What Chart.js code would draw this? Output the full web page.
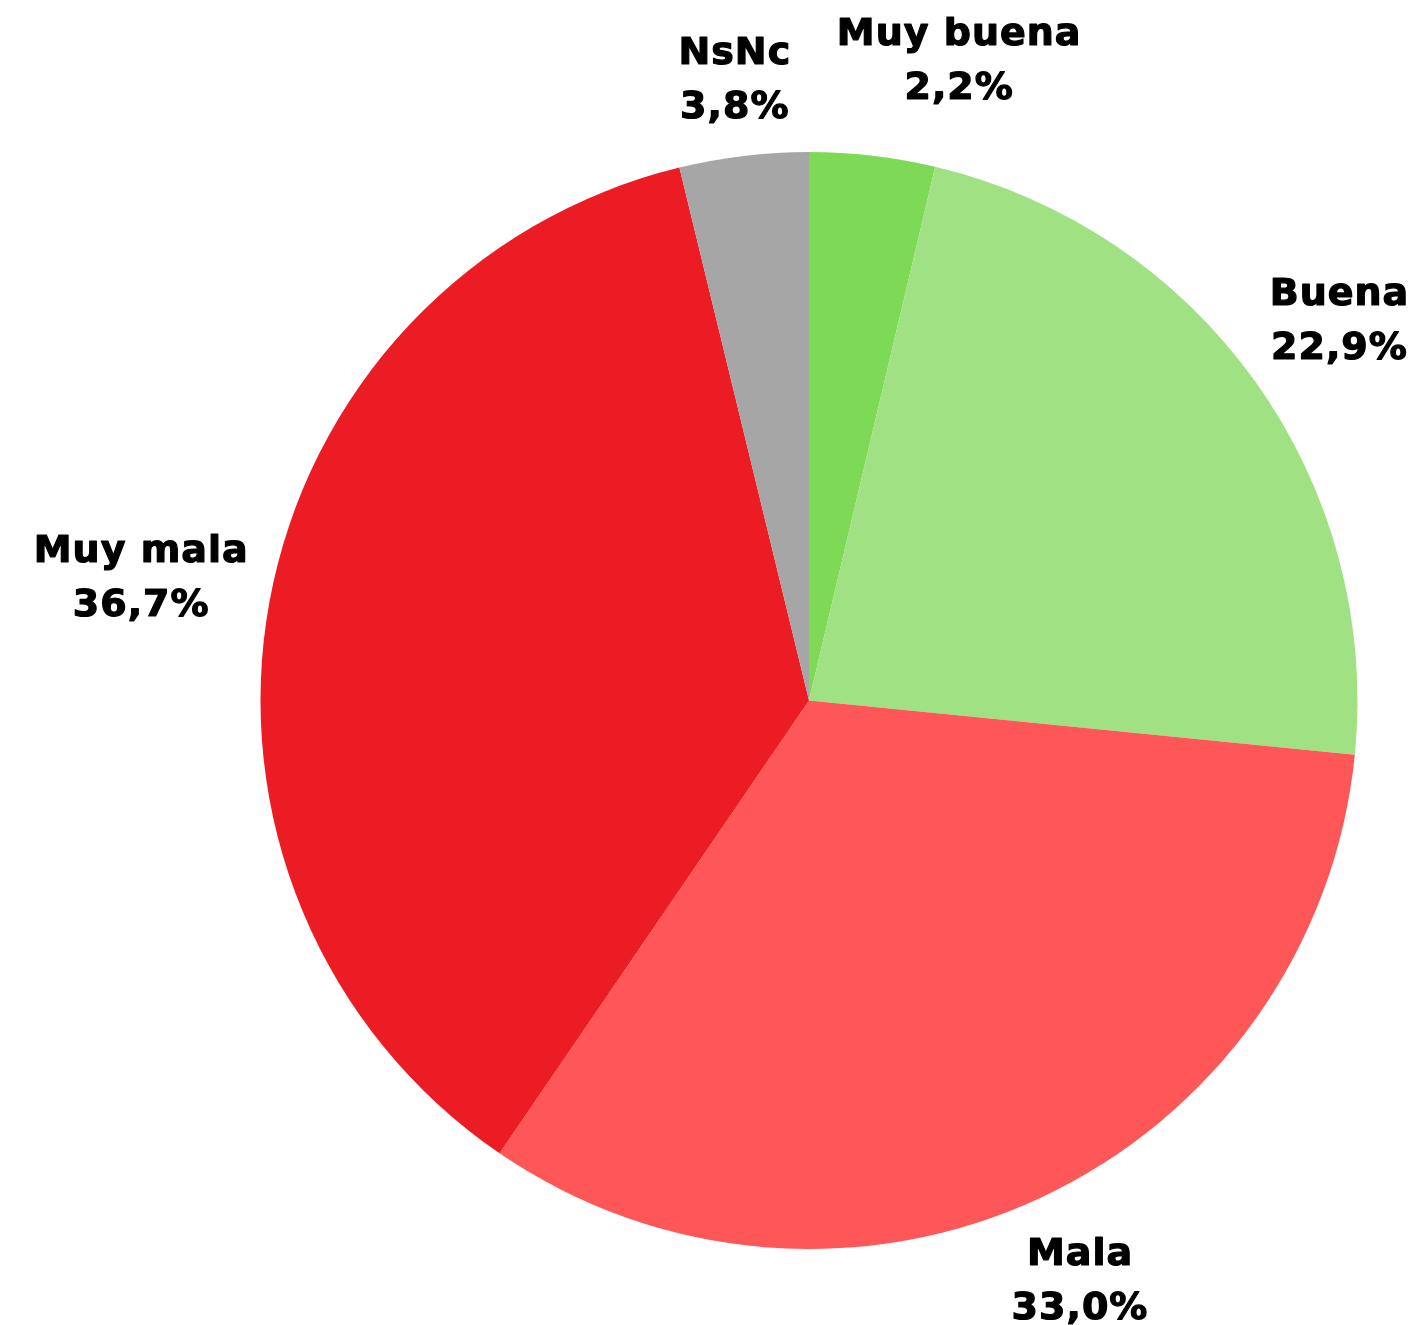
<!DOCTYPE html>
<html>
<head>
<meta charset="utf-8">
<script src="https://cdn.jsdelivr.net/npm/chart.js@4.4.1/dist/chart.umd.min.js"></script>
<style>
  html, body { margin: 0; padding: 0; background: #fff; }
  #wrap { width: 1414px; height: 1325px; position: relative; }
</style>
</head>
<body>
<div id="wrap"><canvas id="valoracionChart"></canvas></div>
<script>
// Datos (sentido horario desde arriba)
const categorias = ['Muy buena', 'Buena', 'Mala', 'Muy mala', 'NsNc'];
const valores = [3.7, 22.9, 33.0, 36.7, 3.8];
const etiquetasPct = ['2,2%', '22,9%', '33,0%', '36,7%', '3,8%'];
const colores = ['#7ED957', '#A0E183', '#FF5757', '#EC1C24', '#A6A6A6'];

// Etiquetas fuera del sector, como en el original
const etiquetasExternas = {
    id: 'etiquetasExternas',
    afterDatasetsDraw(chart, args, opts) {
        const ctx = chart.ctx;
        const meta = chart.getDatasetMeta(0);
        ctx.save();
        ctx.font = opts.font;
        ctx.letterSpacing = opts.letterSpacing;
        ctx.fillStyle = '#000';
        ctx.strokeStyle = '#000';
        ctx.lineWidth = opts.grosor;
        ctx.lineJoin = 'round';
        ctx.textAlign = 'center';
        ctx.textBaseline = 'middle';
        meta.data.forEach((arc, i) => {
            const p = arc.getProps(['x', 'y', 'startAngle', 'endAngle', 'outerRadius'], true);
            const ang = (p.startAngle + p.endAngle) / 2;
            const dx = Math.cos(ang), dy = Math.sin(ang);
            const lineas = [categorias[i], etiquetasPct[i]];
            const w = Math.max(...lineas.map(t => ctx.measureText(t).width));
            const h = opts.lineHeight * 2;
            const ext = (w / 2) * Math.abs(dx) + (h / 2) * Math.abs(dy);
            const d = p.outerRadius + opts.gap + ext;
            const desp = opts.nudge[i] || [0, 0];
            const cx = p.x + dx * d + desp[0];
            const cy = p.y + dy * d + desp[1];
            lineas.forEach((t, k) => {
                const y = cy + (k - 0.5) * opts.lineHeight;
                ctx.fillText(t, cx, y);
                ctx.strokeText(t, cx, y);
            });
        });
        ctx.restore();
    }
};

const ctx = document.getElementById('valoracionChart').getContext('2d');
new Chart(ctx, {
    type: 'pie',
    data: {
        labels: categorias,
        datasets: [{
            data: valores,
            backgroundColor: colores,
            borderWidth: 0
        }]
    },
    options: {
        responsive: true,
        maintainAspectRatio: false,
        animation: false,
        layout: { padding: { top: 152, bottom: 76, left: 260, right: 56 } },
        plugins: {
            legend: { display: false },
            tooltip: { enabled: false },
            etiquetasExternas: {
                font: 'bold 38px "DejaVu Sans"',
                letterSpacing: '1px',
                grosor: 1.2,
                lineHeight: 54,
                gap: 15,
                nudge: { 0: [77, -11] }
            }
        }
    },
    plugins: [etiquetasExternas]
});
</script>
</body>
</html>
